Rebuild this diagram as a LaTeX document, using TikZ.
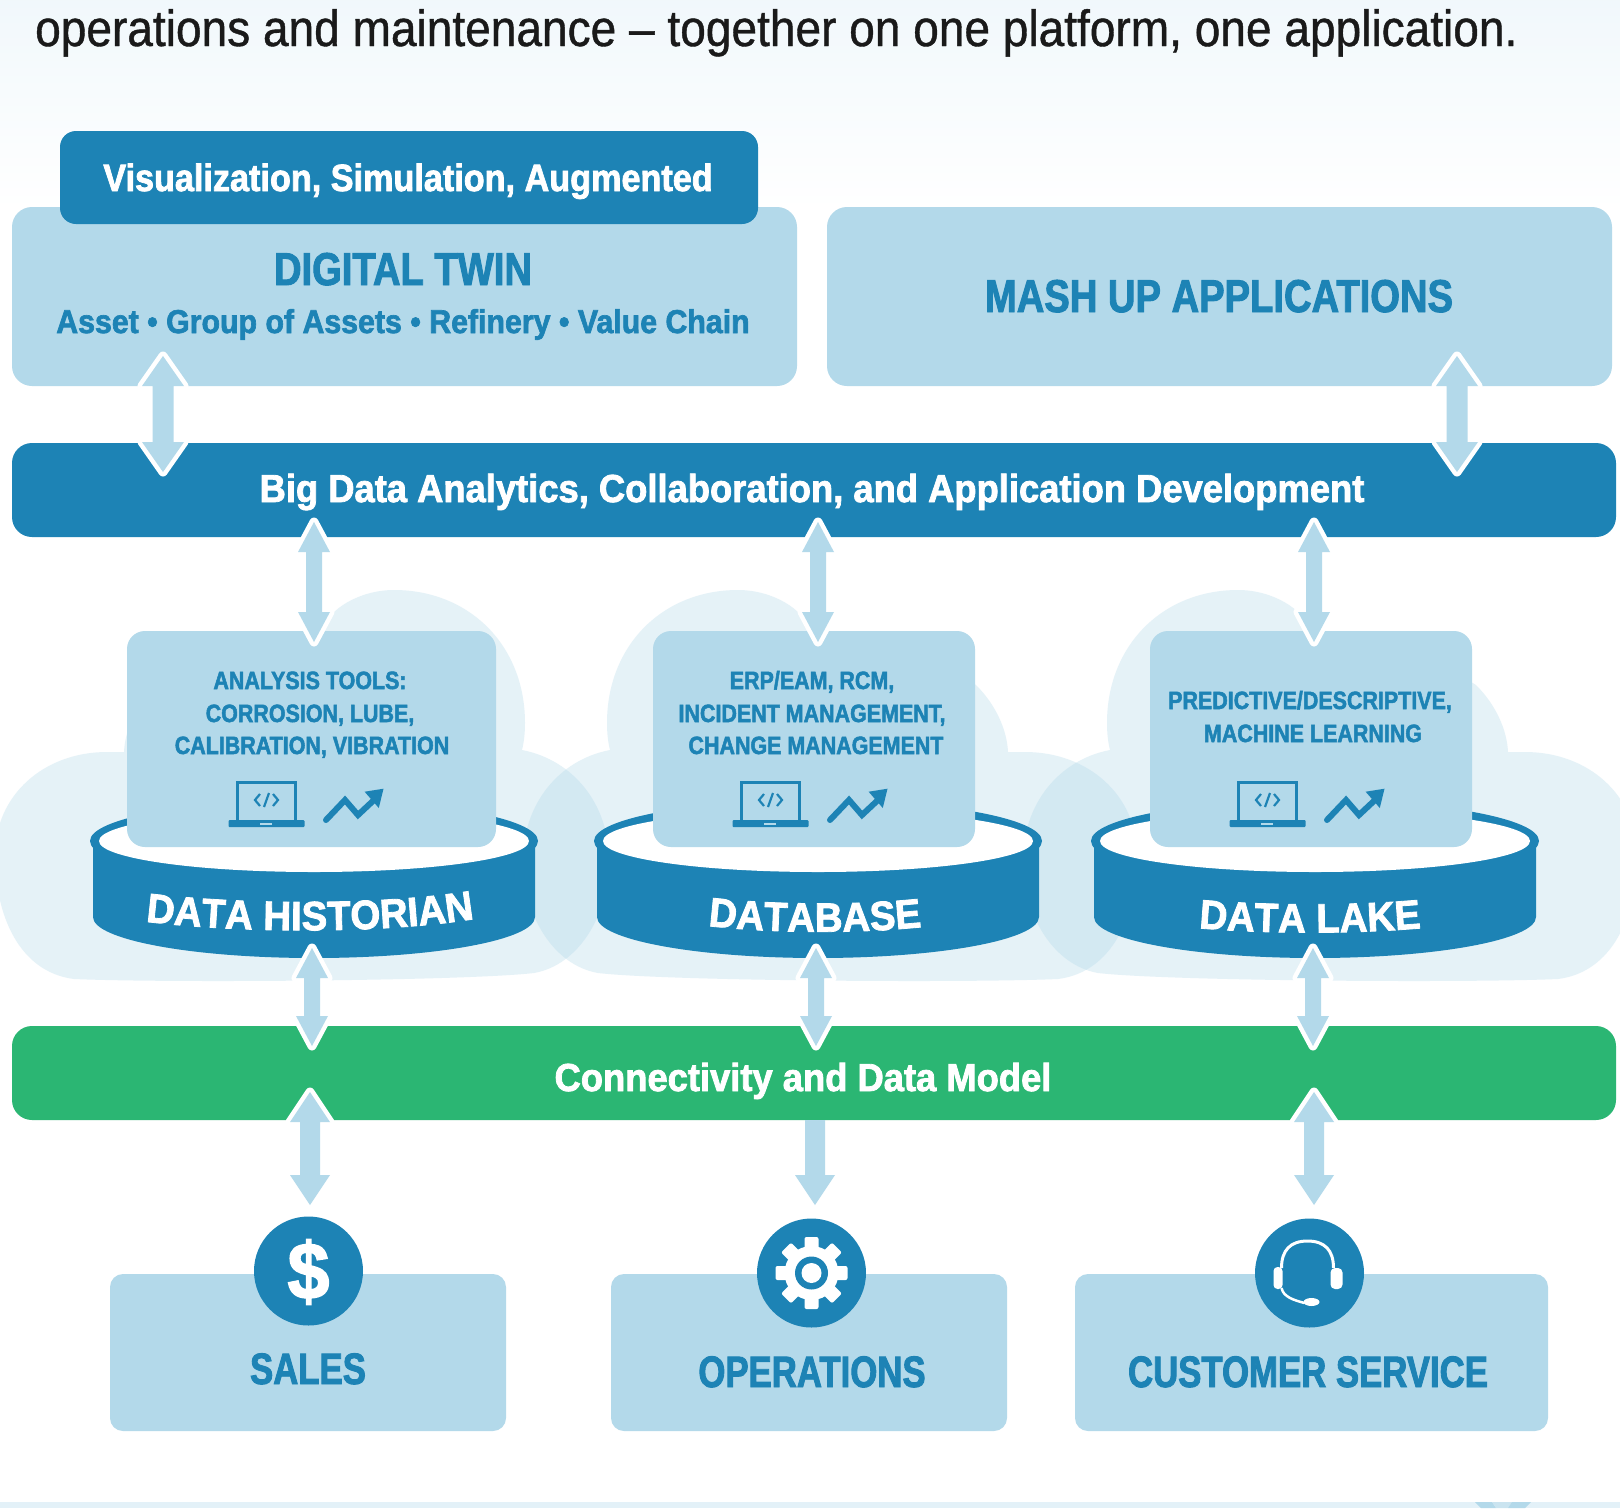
\documentclass[tikz,border=0pt]{standalone}
\usepackage{fontspec}
\usetikzlibrary{calc,decorations.text}
\setmainfont{Liberation Sans}
\newfontfamily\ttl[FakeStretch=0.903,FakeBold=0.8]{Liberation Sans}
\newcommand\mkfont[2]{\newfontfamily#1[FakeStretch=#2,FakeBold=2]{Liberation Sans Bold}}
\mkfont\fBar{0.932}
\mkfont\fVis{0.90}
\mkfont\fAst{0.918}
\mkfont\fHead{0.83}
\mkfont\fBot{0.79}
\mkfont\fTool{0.858}
\mkfont\fCyl{0.94}
\definecolor{deep}{HTML}{1D83B5}
\definecolor{pale}{HTML}{B3D9EA}
\definecolor{lime}{HTML}{2BB673}
\definecolor{mist}{HTML}{E3F1F8}
\definecolor{ink}{HTML}{1A1A1A}
\newcommand\fsz[1]{\fontsize{#1}{#1}\selectfont}
\tikzset{
  x=1pt,y=-1pt,
  panel/.style={fill=pale,rounded corners=#1,draw=none},
  panel/.default=20pt,
  deepbox/.style={fill=deep,rounded corners=16pt,draw=none},
  limebox/.style={fill=lime,rounded corners=20pt,draw=none},
  cloudshape/.style={fill=pale,fill opacity=0.34,draw=none},
  label/.style={inner sep=0pt,anchor=base,align=center},
  dbl/.style={to path={let \p1=(\tikztostart),\p2=(\tikztotarget) in
      (\x1,\y1) -- ({\x1+#1pt},{\y1-30pt}) -- ({\x1+#1pt/2},{\y1-30pt})
      -- ({\x1+#1pt/2},{\y2+30pt}) -- ({\x1+#1pt},{\y2+30pt}) -- (\x2,\y2)
      -- ({\x1-#1pt},{\y2+30pt}) -- ({\x1-#1pt/2},{\y2+30pt})
      -- ({\x1-#1pt/2},{\y1-30pt}) -- ({\x1-#1pt},{\y1-30pt}) -- cycle}},
  sgl/.style={to path={let \p1=(\tikztostart),\p2=(\tikztotarget) in
      ({\x1-#1pt/2},\y1) -- ({\x1+#1pt/2},\y1)
      -- ({\x1+#1pt/2},{\y2+30pt}) -- ({\x1+#1pt},{\y2+30pt}) -- (\x2,\y2)
      -- ({\x1-#1pt},{\y2+30pt}) -- ({\x1-#1pt/2},{\y2+30pt}) -- cycle}},
  halo/.style={fill=pale,preaction={draw=white,line width=9pt,line join=round}},
  icon/.style={draw=deep,line width=3pt,fill=none},
}
\newcommand\cloudpath{%
  (-240,979) .. controls (-295,972) and (-319,915) .. (-319,855)
  .. controls (-319,795) and (-270,752) .. (-207,752)
  -- (-190,752) .. controls (-189,730) and (-178,705) .. (-158,685)
  .. controls (-110,655) and (-40,648) .. (10,628)
  .. controls (14,610) and (45,590) .. (80,590)
  .. controls (155,590) and (211,645) .. (211,723)
  .. controls (211,733) and (210,742) .. (208,750)
  .. controls (260,760) and (295,805) .. (295,860)
  .. controls (295,915) and (265,965) .. (220,973)
  .. controls (150,981) and (-150,983) .. (-240,979) -- cycle}
\newcommand\cylinder[1]{%
  \begin{scope}[xshift=#1pt]
    \fill[deep] (-221,841) -- (-221,917) arc[start angle=180,end angle=0,x radius=221,y radius=41] -- (221,841) -- cycle;
    \fill[deep] (0,841) ellipse[x radius=224,y radius=41];
    \fill[white] (0,841) ellipse[x radius=215,y radius=31];
  \end{scope}}
\newcommand\toolicons[1]{%
  \begin{scope}[xshift=#1pt]
    \draw[icon] (237.5,821) -- (237.5,782) -- (295.5,782) -- (295.5,821);
    \fill[deep,rounded corners=1pt] (228.5,820) rectangle (304.5,827);
    \fill[pale] (260,823) rectangle (272,824.6);
    \draw[deep,line width=2.2pt] (260,794) -- (255,800) -- (260,806) (273,794) -- (278,800) -- (273,806) (269,793) -- (264,807);
    \draw[deep,line width=6pt,line cap=round,line join=miter] (326,820) -- (345,800) -- (358,815) -- (374,800);
    \fill[deep] (383.5,788.7) -- (364.6,791.7) -- (378.8,808) -- cycle;
  \end{scope}}
\begin{document}
\begin{tikzpicture}
\useasboundingbox (0,0) rectangle (1620,1508);
\fill[white] (0,0) rectangle (1620,1508);
\shade[top color=mist!50,bottom color=white] (0,0) rectangle (1620,210);
\fill[mist] (0,1502) rectangle (1620,1508);
\fill[pale] (1475,1502) -- (1492,1502) -- (1496,1508) -- (1481,1508) -- cycle;
\fill[pale!70] (1492,1502) -- (1512,1502) -- (1508,1508) -- (1496,1508) -- cycle;
\fill[pale] (1512,1502) -- (1531,1502) -- (1525,1508) -- (1508,1508) -- cycle;

\node[text=ink,font=\ttl\fsz{51},inner sep=0pt,anchor=base west] (headline) at (35,46) {operations and maintenance – together on one platform, one application.};

% clouds
\fill[cloudshape,shift={(314pt,0pt)}] \cloudpath;
\fill[cloudshape,shift={(818pt,0pt)},xscale=-1] \cloudpath;
\fill[cloudshape,shift={(1318pt,0pt)},xscale=-1] \cloudpath;

% top panels
\path[panel] (12,207) rectangle (797,386);
\path[panel] (827,207) rectangle (1612,386);
\path[deepbox] (60,131) rectangle (758,224);
\node[label,text=white,font=\fVis\fsz{38}] (vis) at (408,191) {Visualization, Simulation, Augmented};
\node[label,text=deep,font=\fHead\fsz{46}] (digital) at (403,285) {DIGITAL TWIN};
\node[label,text=deep,font=\fAst\fsz{33}] (assets) at (403,333) {Asset • Group of Assets • Refinery • Value Chain};
\node[label,text=deep,font=\fHead\fsz{46}] (mash) at (1219,312) {MASH UP APPLICATIONS};

% bars
\path[deepbox,rounded corners=20pt] (12,443) rectangle (1616,537);
\node[label,text=white,font=\fBar\fsz{39}] (bigdata) at (812,502) {Big Data Analytics, Collaboration, and Application Development};
\path[limebox] (12,1026) rectangle (1616,1120);
\node[label,text=white,font=\fBar\fsz{39}] (connect) at (803,1091) {Connectivity and Data Model};

% connector end points
\foreach \nm/\xx/\tt/\bb in {a/163/356/472,b/1457/356/472,c/314/522/642,d/818/522/642,e/1314/522/642,f/312/948/1046,g/816/948/1046,h/1313/948/1046,i/310/1092/1205,k/1314/1092/1205}{
  \coordinate (\nm t) at (\xx,\tt);
  \coordinate (\nm b) at (\xx,\bb);
}
\coordinate (jt) at (815,1120);
\coordinate (jb) at (815,1205);

% cylinders
\cylinder{314}
\cylinder{818}
\cylinder{1315}
\path[panel=18pt] (127,631) rectangle (496,847);
\path[panel=18pt] (653,631) rectangle (975,847);
\path[panel=18pt] (1150,631) rectangle (1472,847);

\node[label,text=deep,font=\fTool\fsz{25}] (t1a) at (310,689) {ANALYSIS TOOLS:};
\node[label,text=deep,font=\fTool\fsz{25}] (t1b) at (310,722) {CORROSION, LUBE,};
\node[label,text=deep,font=\fTool\fsz{25}] (t1c) at (312,754) {CALIBRATION, VIBRATION};
\node[label,text=deep,font=\fTool\fsz{25}] (t2a) at (812,689) {ERP/EAM, RCM,};
\node[label,text=deep,font=\fTool\fsz{25}] (t2b) at (812,722) {INCIDENT MANAGEMENT,};
\node[label,text=deep,font=\fTool\fsz{25}] (t2c) at (816,754) {CHANGE MANAGEMENT};
\node[label,text=deep,font=\fTool\fsz{25}] (t3a) at (1310,709) {PREDICTIVE/DESCRIPTIVE,};
\node[label,text=deep,font=\fTool\fsz{25}] (t3b) at (1313,742) {MACHINE LEARNING};
\toolicons{0}
\toolicons{504}
\toolicons{1001}

% cylinder labels
\path[decorate,decoration={text along path,text align=center,text color=white,
   text={|\fCyl\fsz{41}|DATA HISTORIAN}}]
   (120,918) .. controls (220,934) and (400,936) .. (500,914);
\path[decorate,decoration={text along path,text align=center,text color=white,
   text={|\fCyl\fsz{41}|DATABASE}}]
   (660,918) .. controls (740,936) and (890,936) .. (970,920);
\path[decorate,decoration={text along path,text align=center,text color=white,
   text={|\fCyl\fsz{41}|DATA LAKE}}]
   (1150,922) .. controls (1230,936) and (1390,936) .. (1470,922);

% connectors
\foreach \nm in {a,b}{\path[halo,dbl=21] (\nm t) to (\nm b);}
\foreach \nm in {c,d,e,f,g,h}{\path[halo,dbl=16] (\nm t) to (\nm b);}
\foreach \nm in {i,k}{\path[halo,dbl=20] (\nm t) to (\nm b);}
\path[fill=pale,sgl=20] (jt) to (jb);

% bottom panels
\path[panel=13pt] (110,1274) rectangle (506,1431);
\path[panel=13pt] (611,1274) rectangle (1007,1431);
\path[panel=13pt] (1075,1274) rectangle (1548,1431);
\node[label,text=deep,font=\fBot\fsz{44}] (sales) at (308,1384) {SALES};
\node[label,text=deep,font=\fBot\fsz{44}] (ops) at (812,1387) {OPERATIONS};
\node[label,text=deep,font=\fBot\fsz{44}] (cust) at (1308,1387) {CUSTOMER SERVICE};

% round badges
\fill[deep] (308.5,1271) circle[radius=54.5];
\fill[deep] (811.5,1273) circle[radius=54.5];
\fill[deep] (1309.5,1273) circle[radius=54.5];
\node[inner sep=0pt,text=white,font=\fCyl\fsz{80}] (dollar) at (308.5,1272) {\$};
% gear
\begin{scope}[shift={(811.5,1273)}]
  \foreach \a in {0,45,...,315}{
    \fill[white,rotate=\a,rounded corners=2pt] (-7,-36) rectangle (7,-20);
  }
  \fill[white] (0,0) circle[radius=27];
  \fill[deep] (0,0) circle[radius=16.5];
  \fill[white] (0,0) circle[radius=10];
\end{scope}
% headset
\begin{scope}[xshift=-1.5pt]
\draw[white,line width=3pt,fill=none] (1283,1268) .. controls (1283,1250) and (1292,1241) .. (1309,1241) .. controls (1326,1241) and (1335,1250) .. (1335,1268);
\fill[white,rounded corners=4pt] (1275,1267) rectangle (1284,1289);
\fill[white,rounded corners=4.5pt] (1332,1268) rectangle (1344,1289);
\draw[white,line width=2.5pt] (1283,1288) .. controls (1285,1297) and (1295,1300) .. (1306,1303);
\fill[white] (1313,1302) ellipse[x radius=8,y radius=4];
\end{scope}
\end{tikzpicture}
\end{document}
